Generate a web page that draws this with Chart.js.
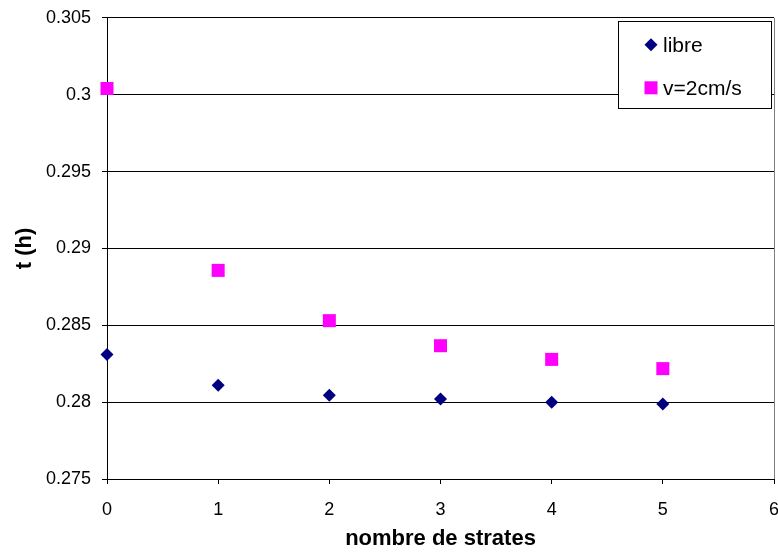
<!DOCTYPE html>
<html>
<head>
<meta charset="utf-8">
<script src="https://cdn.jsdelivr.net/npm/chart.js@4/dist/chart.umd.min.js"></script>
<style>
html,body{margin:0;padding:0;background:#fff;overflow:hidden;}
#wrap{width:778px;height:552px;overflow:hidden;position:relative;}
canvas{display:block;position:absolute;left:0;top:-4px;}
</style>
</head>
<body>
<div id="wrap"><canvas id="c" width="800" height="556"></canvas></div>
<script>
const strates = [0, 1, 2, 3, 4, 5];
const libre = [0.2831, 0.2811, 0.28045, 0.2802, 0.2800, 0.27988];
const v2cms = [0.3004, 0.28857, 0.2853, 0.28367, 0.28278, 0.28218];
const seriesNames = ['libre', 'v=2cm/s'];
const yTicks = [0.275, 0.28, 0.285, 0.29, 0.295, 0.3, 0.305];
const xTicks = [0, 1, 2, 3, 4, 5, 6];

const NAVY = '#000080';
const MAGENTA = '#FF00FF';
const FONT = "'Liberation Sans', Arial, sans-serif";

function pts(xs, ys){ return xs.map((x,i)=>({x:x, y:ys[i]})); }

function drawMarker(ctx, style, x, y, r, color){
  ctx.save();
  ctx.fillStyle = color;
  ctx.beginPath();
  if (style === 'rectRot'){
    ctx.moveTo(x - r, y); ctx.lineTo(x, y - r); ctx.lineTo(x + r, y); ctx.lineTo(x, y + r);
    ctx.closePath();
  } else {
    const s = Math.SQRT1_2 * r;
    ctx.rect(x - s, y - s, 2*s, 2*s);
  }
  ctx.fill();
  ctx.restore();
}

const legendPlugin = {
  id: 'boxLegend',
  afterDatasetsDraw(chart){
    const ctx = chart.ctx, a = chart.chartArea;
    const bx = a.right - 156, by = a.top + 3, bw = 153, bh = 87;
    ctx.save();
    ctx.fillStyle = '#fff';
    ctx.fillRect(bx, by, bw, bh);
    ctx.strokeStyle = '#000';
    ctx.lineWidth = 1;
    ctx.strokeRect(Math.round(bx)+0.5, Math.round(by)+0.5, bw, bh);
    ctx.font = "21px " + FONT;
    ctx.fillStyle = '#000';
    ctx.textBaseline = 'middle';
    ctx.textAlign = 'left';
    chart.data.datasets.forEach((ds, i) => {
      const cy = by + 24 + i * 43;
      drawMarker(ctx, ds.pointStyle, bx + 33, cy, ds.pointRadius, ds.backgroundColor);
      ctx.fillStyle = '#000';
      ctx.fillText(ds.label, bx + 45, cy + 1);
    });
    ctx.restore();
  }
};

const rightBorderPlugin = {
  id: 'rightBorder',
  beforeDatasetsDraw(chart){
    const ctx = chart.ctx, a = chart.chartArea;
    ctx.save();
    ctx.strokeStyle = '#808080';
    ctx.lineWidth = 1;
    ctx.beginPath();
    const x = Math.round(a.right) + 0.5;
    ctx.moveTo(x, a.top);
    ctx.lineTo(x, a.bottom);
    ctx.stroke();
    ctx.restore();
  }
};

new Chart(document.getElementById('c'), {
  type: 'scatter',
  data: {
    datasets: [
      { label: seriesNames[0], data: pts(strates, libre), pointStyle: 'rectRot', pointRadius: 6.5, pointHoverRadius: 6.5,
        backgroundColor: NAVY, borderColor: NAVY, borderWidth: 0, clip: false },
      { label: seriesNames[1], data: pts(strates, v2cms), pointStyle: 'rect', pointRadius: 9.2, pointHoverRadius: 9.2,
        backgroundColor: MAGENTA, borderColor: MAGENTA, borderWidth: 0, clip: false }
    ]
  },
  options: {
    responsive: false,
    animation: false,
    events: [],
    layout: { padding: { top: 13, right: 26, left: 0, bottom: 0 } },
    plugins: { legend: { display: false }, tooltip: { enabled: false } },
    scales: {
      x: {
        type: 'linear', min: 0, max: 6,
        afterBuildTicks(s){ s.ticks = xTicks.map(v => ({value: v})); },
        afterFit(s){ s.height = 73; },
        ticks: { color: '#000', padding: 15, font: { family: FONT, size: 18 }, maxRotation: 0,
                 callback: v => String(v) },
        grid: { drawOnChartArea: false, drawTicks: true, tickLength: 5, color: '#000' },
        border: { display: true, color: '#000', width: 1 },
        title: { display: true, text: 'nombre de strates', color: '#000',
                 font: { family: FONT, size: 22, weight: 'bold' }, padding: { top: 0, bottom: 0 } }
      },
      y: {
        type: 'linear', min: 0.275, max: 0.305,
        afterBuildTicks(s){ s.ticks = yTicks.map(v => ({value: v})); },
        afterFit(s){ s.width = 107; },
        ticks: { color: '#000', padding: 11, font: { family: FONT, size: 18 },
                 callback: v => String(Number(v.toFixed(3))) },
        grid: { drawOnChartArea: true, drawTicks: true, tickLength: 5, color: '#000' },
        border: { display: true, color: '#000', width: 1 },
        title: { display: true, text: 't (h)', color: '#000',
                 font: { family: FONT, size: 22, weight: 'bold' }, padding: { top: 12, bottom: 0 } }
      }
    }
  },
  plugins: [rightBorderPlugin, legendPlugin]
});
</script>
</body>
</html>
